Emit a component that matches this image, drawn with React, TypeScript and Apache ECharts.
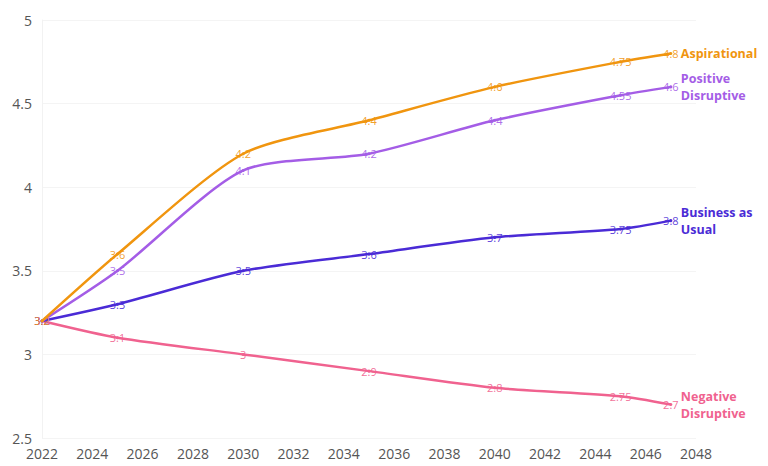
import React, { useEffect, useRef } from "react";
import * as echarts from "echarts";

const years = [2022, 2025, 2030, 2035, 2040, 2045, 2047];
const aspirational = [3.2, 3.6, 4.2, 4.4, 4.6, 4.75, 4.8];
const positiveDisruptive = [3.2, 3.5, 4.1, 4.2, 4.4, 4.55, 4.6];
const businessAsUsual = [3.2, 3.3, 3.5, 3.6, 3.7, 3.75, 3.8];
const negativeDisruptive = [3.2, 3.1, 3.0, 2.9, 2.8, 2.75, 2.7];

const seriesNames = ["Aspirational", "Positive\nDisruptive", "Business as\nUsual", "Negative\nDisruptive"];
const seriesValues = [aspirational, positiveDisruptive, businessAsUsual, negativeDisruptive];
const colors = ["#F0950F", "#A45DE6", "#4A2BD6", "#F0628F"];

export default function App() {
  const ref = useRef<HTMLDivElement>(null);
  useEffect(() => {
    const chart = echarts.init(ref.current!, null, { renderer: "svg" });
    const font = "'Open Sans', 'Noto Sans', sans-serif";
    chart.setOption({
      animation: false,
      grid: { left: 42, right: 72, top: 20, bottom: 28 },
      xAxis: {
        type: "value",
        min: 2022,
        max: 2048,
        interval: 2,
        axisLine: { show: false },
        axisTick: { show: false },
        splitLine: { show: false },
        axisLabel: { color: "#555", fontSize: 14, fontFamily: font, margin: 8, formatter: (v: number) => String(v) },
      },
      yAxis: {
        type: "value",
        min: 2.5,
        max: 5,
        interval: 0.5,
        axisLine: { show: true, lineStyle: { color: "#f2f2f2" } },
        axisTick: { show: false },
        splitLine: { show: true, lineStyle: { color: "#f4f4f4" } },
        axisLabel: { color: "#555", fontSize: 14, fontFamily: font, margin: 10 },
      },
      series: seriesValues.map((vals, i) => ({
        type: "line",
        name: seriesNames[i],
        data: years.map((y, j) => [y, vals[j]]),
        smooth: 0.25,
        symbol: "circle",
        symbolSize: 3,
        itemStyle: { color: colors[i] },
        lineStyle: { color: colors[i], width: 2.5 },
        z: 10 - i,
        label: {
          show: true,
          position: "inside",
          color: colors[i],
          opacity: 0.9,
          fontSize: 11,
          fontFamily: font,
          formatter: (p: any) => String(p.value[1]),
        },
        endLabel: {
          show: true,
          formatter: () => seriesNames[i],
          color: colors[i],
          fontSize: 12.5,
          fontWeight: "bold",
          fontFamily: font,
          lineHeight: 17,
          distance: 10,
        },
      })),
    });
    return () => chart.dispose();
  }, []);
  return <div ref={ref} style={{ width: 768, height: 466, position: "absolute", left: 0, top: 0, background: "#fff" }} />;
}
